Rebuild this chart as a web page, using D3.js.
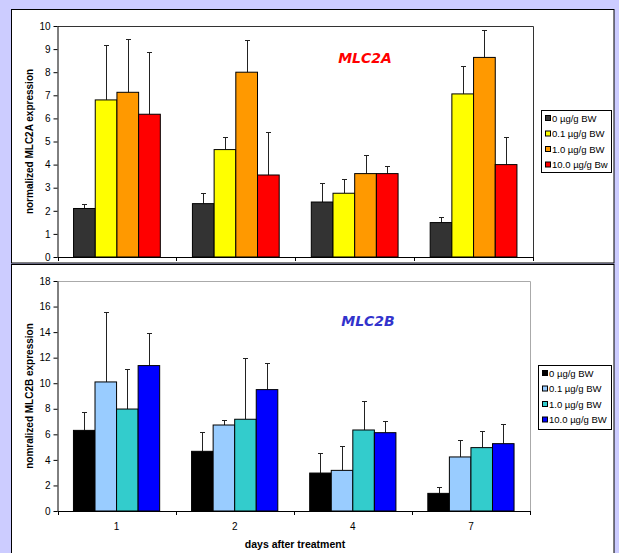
<!DOCTYPE html>
<html><head><meta charset="utf-8">
<script src="https://cdn.jsdelivr.net/npm/d3@7"></script>
<style>
html,body{margin:0;padding:0;background:#ccccff;}
svg{display:block;font-family:"Liberation Sans",Arial,sans-serif;}
</style></head><body>
<svg id="c" width="619" height="553"></svg>
<script>
const days = ["1","2","4","7"];
const dosesA = ["0 µg/g BW","0.1 µg/g BW","1.0 µg/g BW","10.0 µg/g Bw"];
const dosesB = ["0 µg/g BW","0.1 µg/g BW","1.0 µg/g BW","10.0 µg/g BW"];
const colorsA = ["#333333","#ffff00","#ff9900","#ff0000"];
const colorsB = ["#000000","#99ccff","#33cccc","#0000ff"];
// MLC2A means per dose (across days) and upper error
const a0 = [2.1, 2.31, 2.38, 1.49],  a0e = [0.2, 0.45, 0.82, 0.26];
const a1 = [6.8, 4.65, 2.76, 7.06],  a1e = [2.38, 0.53, 0.63, 1.21];
const a2 = [7.13, 8.0, 3.61, 8.64],  a2e = [2.32, 1.38, 0.79, 1.19];
const a3 = [6.18, 3.55, 3.61, 4.0],  a3e = [2.68, 1.86, 0.32, 1.18];
// MLC2B
const b0 = [6.31, 4.67, 2.97, 1.38], b0e = [1.41, 1.49, 1.54, 0.52];
const b1 = [10.1, 6.73, 3.18, 4.23], b1e = [5.45, 0.37, 1.93, 1.33];
const b2 = [7.98, 7.18, 6.34, 4.96], b2e = [3.16, 4.77, 2.3, 1.33];
const b3 = [11.38, 9.5, 6.13, 5.27], b3e = [2.55, 2.06, 0.91, 1.54];
const ticksA = [0,1,2,3,4,5,6,7,8,9,10];
const ticksB = [0,2,4,6,8,10,12,14,16,18];

const svg = d3.select("#c");
// panels
svg.append("rect").attr("x",11.5).attr("y",9.5).attr("width",602.5).attr("height",253.5)
  .attr("fill","#fff").attr("stroke","#000");
svg.append("rect").attr("x",11.5).attr("y",264.5).attr("width",602.5).attr("height",300)
  .attr("fill","#fff").attr("stroke","#000");

function chart(cfg){
  const g = svg.append("g");
  const x0 = d3.scaleBand().domain(days).range([cfg.left, cfg.right]);
  const x1 = d3.scaleBand().domain(d3.range(4)).range([0, x0.bandwidth()]).paddingOuter(0.74).paddingInner(0);
  const y = d3.scaleLinear().domain([0, cfg.max]).range([cfg.bottom, cfg.top]);
  // plot border top/right
  g.append("path").attr("d",`M${cfg.left},${cfg.top+0.5}H${cfg.right+0.5}V${cfg.bottom}`)
    .attr("fill","none").attr("stroke",cfg.border).attr("stroke-width",1);
  const rows = cfg.series.map((s,i)=>s.map((v,j)=>({day:days[j], i, v, e:cfg.errs[i][j]})));
  const flat = rows.flat();
  // error bars
  g.selectAll(".eb").data(flat).join("path")
    .attr("d",d=>{const cx = Math.round(x0(d.day)+x1(d.i)+x1.bandwidth()/2)+0.5;
      const y1 = y(d.v), y2 = Math.round(y(d.v+d.e))+0.5;
      return `M${cx},${y1}V${y2}M${cx-2.5},${y2}H${cx+2.5}`;})
    .attr("stroke","#222").attr("stroke-width",1).attr("fill","none");
  // bars
  g.selectAll(".bar").data(flat).join("rect")
    .attr("x",d=>x0(d.day)+x1(d.i)).attr("width",x1.bandwidth())
    .attr("y",d=>y(d.v)).attr("height",d=>y(0)-y(d.v))
    .attr("fill",d=>cfg.colors[d.i]).attr("stroke","#000").attr("stroke-width",1);
  // y axis
  const ya = g.append("g").attr("transform",`translate(${cfg.left},0)`)
    .call(d3.axisLeft(y).tickValues(cfg.ticks).tickSize(4).tickSizeOuter(0).tickPadding(3));
  ya.select(".domain").attr("stroke","#000");
  ya.selectAll("text").attr("font-size","10px").attr("fill","#000").attr("font-family","Liberation Sans, Arial, sans-serif");
  // x axis
  const xa = g.append("g").attr("transform",`translate(0,${cfg.bottom})`)
    .call(d3.axisBottom(x0).tickSize(0).tickPadding(12));
  xa.select(".domain").attr("d",`M${cfg.left},0.5H${cfg.right}`).attr("stroke","#000");
  xa.selectAll("text").attr("font-size","10px").attr("fill","#000").attr("font-family","Liberation Sans, Arial, sans-serif")
    .style("display",cfg.xlabels?null:"none");
  const bounds = days.map(d=>x0(d)).concat([cfg.right]);
  g.selectAll(".xt").data(bounds).join("line")
    .attr("x1",d=>Math.round(d)+0.5).attr("x2",d=>Math.round(d)+0.5)
    .attr("y1",cfg.bottom).attr("y2",cfg.bottom+4).attr("stroke","#000");
  // y label
  g.append("text").attr("transform",`translate(${cfg.ylx},${(cfg.top+cfg.bottom)/2}) rotate(-90)`)
    .attr("text-anchor","middle").attr("font-size","10px").attr("font-weight","bold").text(cfg.ylabel);
  // title
  g.append("text").attr("x",cfg.tx).attr("y",cfg.ty).attr("text-anchor","middle")
    .attr("font-size","14px").attr("font-weight","bold").attr("font-style","italic")
    .attr("font-family","DejaVu Sans, sans-serif").attr("fill",cfg.tcolor).text(cfg.title);
  // legend
  const L = cfg.legend;
  g.append("rect").attr("x",L.x+0.5).attr("y",L.y+0.5).attr("width",L.w).attr("height",L.h)
    .attr("fill","#fff").attr("stroke","#000");
  cfg.names.forEach((n,i)=>{
    const cy = L.y + L.first + i*L.step;
    g.append("rect").attr("x",L.x+4.5).attr("y",cy-3).attr("width",5).attr("height",5)
      .attr("fill",cfg.colors[i]).attr("stroke","#000").attr("stroke-width",1);
    g.append("text").attr("x",L.x+11).attr("y",cy+3.2).attr("font-size","9.5px").text(n);
  });
}

chart({left:57.5, right:533, top:26, bottom:257, max:10, ticks:ticksA,
  series:[a0,a1,a2,a3], errs:[a0e,a1e,a2e,a3e], colors:colorsA, names:dosesA,
  border:"#333", xlabels:false, ylabel:"normalized MLC2A expression", ylx:33,
  title:"MLC2A", tx:365, ty:63, tcolor:"#ff0000",
  legend:{x:541, y:110, w:70, h:62, first:8.5, step:15.5}});
chart({left:57.5, right:530, top:281, bottom:511, max:18, ticks:ticksB,
  series:[b0,b1,b2,b3], errs:[b0e,b1e,b2e,b3e], colors:colorsB, names:dosesB,
  border:"#aaa", xlabels:true, ylabel:"nomralized MLC2B expression", ylx:33,
  title:"MLC2B", tx:368, ty:326, tcolor:"#3333cc",
  legend:{x:538, y:365, w:73, h:64, first:8.5, step:15.5}});
svg.append("text").attr("x",295).attr("y",548).attr("text-anchor","middle")
  .attr("font-size","10.5px").attr("font-weight","bold").text("days after treatment");
</script></body></html>
